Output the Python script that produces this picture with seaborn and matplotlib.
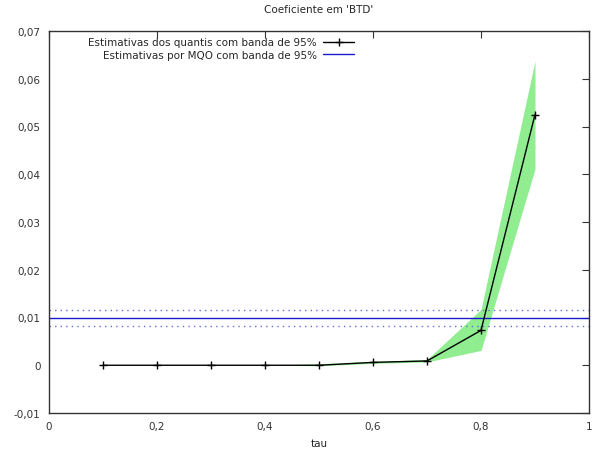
import matplotlib
matplotlib.use("Agg")
import matplotlib.pyplot as plt
import seaborn as sns
import pandas as pd

# Quantile regression estimates for the BTD coefficient
tau = [0.1, 0.2, 0.3, 0.4, 0.5, 0.6, 0.7, 0.8, 0.9]
coef = [0.0, 0.0, 0.0, 0.0, 0.0, 0.0006, 0.0009, 0.0073, 0.0525]
lower = [0.0, 0.0, 0.0, 0.0, -0.0001, 0.0004, 0.0007, 0.0031, 0.0411]
upper = [0.0, 0.0, 0.0, 0.0, 0.0003, 0.0008, 0.0012, 0.0117, 0.0637]

# OLS estimate with 95% band
ols_coef = 0.0100
ols_lower = 0.0083
ols_upper = 0.0115

x_ticks = [0, 0.2, 0.4, 0.6, 0.8, 1.0]
x_tick_labels = ["0", "0,2", "0,4", "0,6", "0,8", "1"]
y_ticks = [-0.01, 0.0, 0.01, 0.02, 0.03, 0.04, 0.05, 0.06, 0.07]
y_tick_labels = ["-0,01", "0", "0,01", "0,02", "0,03", "0,04", "0,05", "0,06", "0,07"]

title = "Coeficiente em 'BTD'"
x_label = "tau"
label_q = "Estimativas dos quantis com banda de 95%"
label_ols = "Estimativas por MQO com banda de 95%"

sns.set_style("white")
plt.rcParams["font.family"] = ["DejaVu Sans"]
plt.rcParams["font.size"] = 7.5

df = pd.DataFrame({"tau": tau, "coef": coef, "lower": lower, "upper": upper})

fig = plt.figure(figsize=(6.0, 4.52), dpi=100)
ax = fig.add_axes([49 / 600, 38 / 452, 540 / 600, 382 / 452])

ax.fill_between(df["tau"], df["lower"], df["upper"], color="#90ee90", lw=0, zorder=1)

# OLS estimate across the whole range, bounds dotted
ols_df = pd.DataFrame({"tau": [0.0, 1.0], "est": [ols_coef, ols_coef],
                       "lo": [ols_lower, ols_lower], "hi": [ols_upper, ols_upper]})
sns.lineplot(data=ols_df, x="tau", y="est", ax=ax, color="#1a1acc", lw=1.0,
             label=label_ols, zorder=2)
sns.lineplot(data=ols_df, x="tau", y="lo", ax=ax, color="#6a6ad8", lw=1.0,
             linestyle=(0, (1, 3)), zorder=2)
sns.lineplot(data=ols_df, x="tau", y="hi", ax=ax, color="#6a6ad8", lw=1.0,
             linestyle=(0, (1, 3)), zorder=2)

sns.lineplot(data=df, x="tau", y="coef", ax=ax, color="black", lw=1.0,
             marker="+", markersize=5.5, markeredgewidth=1.0,
             markeredgecolor="black", markerfacecolor="black",
             label=label_q, zorder=3)

ax.set_xlim(0, 1)
ax.set_ylim(-0.01, 0.07)
ax.set_xticks(x_ticks)
ax.set_xticklabels(x_tick_labels)
ax.set_yticks(y_ticks)
ax.set_yticklabels(y_tick_labels)
ax.tick_params(direction="in", length=5, width=0.8, top=True, right=True,
               labeltop=False, labelright=False, colors="#333333", labelsize=7.5, pad=6)
for s in ax.spines.values():
    s.set_color("#333333")
    s.set_linewidth(1.0)

ax.set_xlabel(x_label, fontsize=7.5, labelpad=5)
ax.set_ylabel("")
ax.set_title(title, fontsize=7.5, pad=14)

handles, labels = ax.get_legend_handles_labels()
order = [labels.index(label_q), labels.index(label_ols)]
leg = ax.legend([handles[i] for i in order], [labels[i] for i in order],
                loc="upper left", bbox_to_anchor=(0.055, 1.008), frameon=False,
                markerfirst=False, handlelength=3.0, handletextpad=0.6,
                labelspacing=0.25, fontsize=7.5, alignment="right")
for t in leg.get_texts():
    t.set_ha("right")

fig.savefig("out.png", dpi=100)
